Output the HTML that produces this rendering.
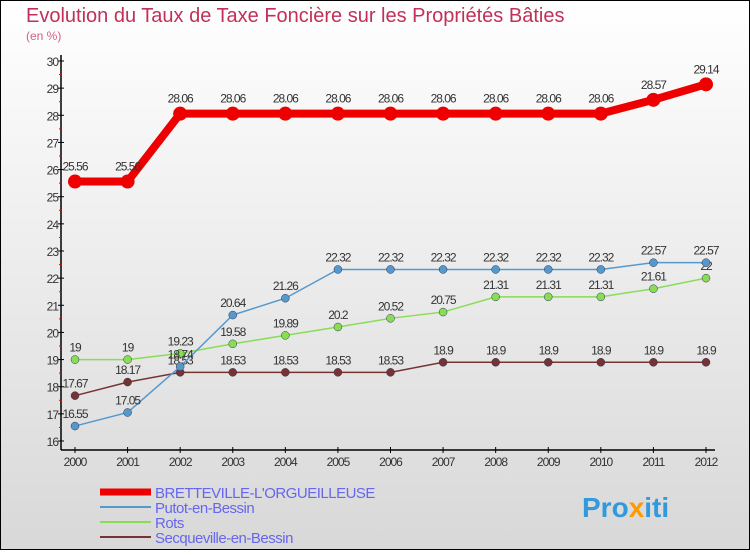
<!DOCTYPE html>
<html><head><meta charset="utf-8"><style>
body{margin:0}
svg text{font-family:"Liberation Sans",sans-serif}
</style></head><body>
<svg width="750" height="550" xmlns="http://www.w3.org/2000/svg">
<defs><linearGradient id="bg" x1="0" y1="0" x2="0" y2="1"><stop offset="0" stop-color="#ffffff"/><stop offset="1" stop-color="#d8d8d8"/></linearGradient></defs>
<rect x="0.5" y="0.5" width="749" height="549" fill="url(#bg)" stroke="#000"/>
<text x="26" y="22" font-size="20" fill="#c2305a">Evolution du Taux de Taxe Foncière sur les Propriétés Bâties</text>
<text x="26" y="40" font-size="12" fill="#d06080">(en %)</text>
<g id="axes"></g>
<g id="series"></g>
<g id="legend"></g>
<text x="582" y="517" font-size="28" font-weight="bold" fill="#3399dd">Pro<tspan fill="#ff9900">x</tspan>iti</text>
</svg>
<script>
const years=[2000,2001,2002,2003,2004,2005,2006,2007,2008,2009,2010,2011,2012];
const yTicks=[16,17,18,19,20,21,22,23,24,25,26,27,28,29,30];
const brette=[25.56,25.56,28.06,28.06,28.06,28.06,28.06,28.06,28.06,28.06,28.06,28.57,29.14];
const putot=[16.55,17.05,18.74,20.64,21.26,22.32,22.32,22.32,22.32,22.32,22.32,22.57,22.57];
const rots=[19,19,19.23,19.58,19.89,20.2,20.52,20.75,21.31,21.31,21.31,21.61,22];
const secq=[17.67,18.17,18.53,18.53,18.53,18.53,18.53,18.9,18.9,18.9,18.9,18.9,18.9];
const names=["BRETTEVILLE-L'ORGUEILLEUSE","Putot-en-Bessin","Rots","Secqueville-en-Bessin"];
const NS="http://www.w3.org/2000/svg";
const X=i=>75+i*(706-75)/(years.length-1);
const Y=v=>441-(v-16)*(441-61)/14;
function mk(t,a,p){const e=document.createElementNS(NS,t);for(const k in a)e.setAttribute(k,a[k]);p.appendChild(e);return e;}
const ax=document.getElementById('axes');
let l=mk('line',{x1:61,y1:55,x2:61,y2:450,stroke:'#000','stroke-width':1.5},ax);


l=mk('line',{x1:61,y1:450,x2:715,y2:450,stroke:'#000','stroke-width':1.5},ax);


yTicks.forEach(v=>{
 mk('line',{x1:58,y1:Y(v),x2:64,y2:Y(v),stroke:'#000'},ax);
 if(v<30)mk('line',{x1:59,y1:Y(v+0.5),x2:62,y2:Y(v+0.5),stroke:'#e00'},ax);
 const t=mk('text',{x:58,y:Y(v)+5,'font-size':12,'text-anchor':'end',fill:'#333','letter-spacing':'-1'},ax);
 t.textContent=v;
 
 
});
years.forEach((y,i)=>{
 mk('line',{x1:X(i),y1:447,x2:X(i),y2:453,stroke:'#000'},ax);
 const t=mk('text',{x:X(i),y:466,'font-size':12,'text-anchor':'middle',fill:'#333','letter-spacing':'-1'},ax);
 t.textContent=y;
 
 
});
const sg=document.getElementById('series');
const defs=[[brette,'#ee0000',8,7,'bretteville'],[putot,'#5599cc',1.5,4,'putot'],[rots,'#88dd55',1.5,4,'rots'],[secq,'#773333',1.5,4,'secqueville']];
[3,2,1,0].forEach(k=>{
 const [d,c,w,r,n]=defs[k];
 const g=mk('g',{},sg);
 
 
 mk('polyline',{points:d.map((v,i)=>X(i)+','+Y(v)).join(' '),fill:'none',stroke:c,'stroke-width':w},g);
 d.forEach((v,i)=>{
  const p=mk('circle',{cx:X(i),cy:Y(v),r:r,fill:c,stroke:k==0?c:'#335','stroke-width':k==0?0:0.5},g);
  
  
  const t=mk('text',{x:X(i),y:Y(v)-(k==0?11:8),'font-size':12,'text-anchor':'middle',fill:'#333','letter-spacing':'-1'},g);
  t.textContent=v;
  
  
 });
});
const lg=document.getElementById('legend');
defs.forEach((d,k)=>{
 const y=492+k*15;
 const g=mk('g',{},lg);
 
 
 mk('line',{x1:100,y1:y,x2:151,y2:y,stroke:d[1],'stroke-width':k==0?7:2},g);
 const t=mk('text',{x:155,y:y+6,'font-size':15,fill:'#6666ee','letter-spacing':'-0.5'},g);
 t.textContent=names[k];
});
</script>
</body></html>
